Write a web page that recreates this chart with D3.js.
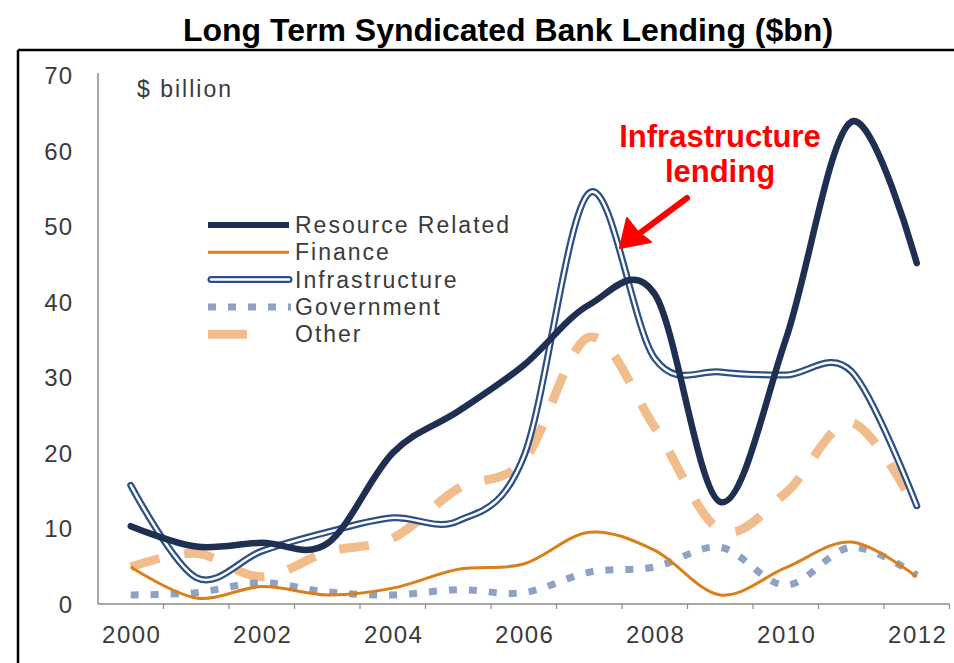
<!DOCTYPE html>
<html>
<head>
<meta charset="UTF-8">
<script src="https://cdn.jsdelivr.net/npm/d3@7/dist/d3.min.js"></script>
<style>
body{
    margin:0;
    background:#fff;
    font-family:"Liberation Sans", Arial, Helvetica, sans-serif;
}
</style>
</head>
<body>
<script>
// values, $bn per year
var years = [2000, 2001, 2002, 2003, 2004, 2005, 2006, 2007, 2008, 2009, 2010, 2011, 2012]
var resource = [10.3, 7.6, 8.1, 8.0, 20, 25.5, 31.6, 39.6, 41, 13.5, 35, 63.8, 45.1]
var finance = [4.9, 0.8, 2.3, 1.2, 2.1, 4.6, 5.3, 9.5, 7.1, 1.2, 4.8, 8.2, 3.6]
var infrastructure = [15.7, 3.5, 7, 9.5, 11.4, 11, 19.5, 54.4, 32.5, 30.7, 30.3, 30.8, 13]
var government = [1.2, 1.5, 2.8, 1.6, 1.2, 1.9, 1.5, 4.2, 4.9, 7.5, 2.5, 7.5, 3.8]
var other = [4.9, 6.7, 3.6, 6.9, 8.7, 15.3, 19, 35.3, 23.4, 9.8, 14.7, 24, 12.4]
var seriesNames = ["Resource Related", "Finance", "Infrastructure", "Government", "Other"]
var yTicks = [0, 10, 20, 30, 40, 50, 60, 70]
var xLabels = [2000, 2002, 2004, 2006, 2008, 2010, 2012]

var width = 954, height = 663

var svg = d3.select("body").append("svg")
    .attr("width", width)
    .attr("height", height)

// frame
svg.append("line").attr("x1", 18).attr("x2", width).attr("y1", 50).attr("y2", 50)
    .attr("stroke", "#000").attr("stroke-width", 2.5)
svg.append("line").attr("x1", 18).attr("x2", 18).attr("y1", 50).attr("y2", height)
    .attr("stroke", "#000").attr("stroke-width", 2.5)

svg.append("text")
    .attr("x", 508).attr("y", 41)
    .attr("text-anchor", "middle")
    .attr("font-size", 32)
    .attr("font-weight", "bold")
    .attr("fill", "#000")
    .text("Long Term Syndicated Bank Lending ($bn)")

var x = d3.scaleLinear().domain([1999.5, 2012.5]).range([98, 949.5])
var y = d3.scaleLinear().domain([0, 70]).range([604, 75])

// axes
var axisCol = "#8a8a8a"
svg.append("line").attr("x1", x(1999.5)).attr("x2", x(1999.5)).attr("y1", 73).attr("y2", y(0))
    .attr("stroke", axisCol).attr("stroke-width", 1.5)
svg.append("line").attr("x1", x(1999.5)).attr("x2", x(2012.5)).attr("y1", y(0)).attr("y2", y(0))
    .attr("stroke", axisCol).attr("stroke-width", 1.5)
svg.selectAll(".xtick").data(years).enter().append("line")
    .attr("class", "xtick")
    .attr("x1", d => x(d + 0.5)).attr("x2", d => x(d + 0.5))
    .attr("y1", y(0)).attr("y2", y(0) + 5)
    .attr("stroke", axisCol).attr("stroke-width", 1.2)

svg.selectAll(".xlab").data(xLabels).enter().append("text")
    .attr("class", "xlab")
    .attr("x", d => x(d) + 1)
    .attr("y", 643)
    .attr("text-anchor", "middle")
    .attr("font-size", 24)
    .attr("letter-spacing", 1.5)
    .attr("fill", "#3a3a3a")
    .text(d => d)

svg.selectAll(".ylab").data(yTicks).enter().append("text")
    .attr("class", "ylab")
    .attr("x", 73)
    .attr("y", d => y(d) + 9)
    .attr("text-anchor", "end")
    .attr("font-size", 24)
    .attr("letter-spacing", 1)
    .attr("fill", "#3a3a3a")
    .text(d => d)

svg.append("text")
    .attr("x", 137).attr("y", 97)
    .attr("font-size", 23)
    .attr("letter-spacing", 2)
    .attr("fill", "#3a3a3a")
    .text("$ billion")

// series
var line = d3.line()
    .x((d, i) => x(years[i]))
    .y(d => y(d))
    .curve(d3.curveCardinal.tension(0))

var plot = svg.append("g")

plot.append("path").datum(other)
    .attr("d", line).attr("fill", "none")
    .attr("stroke", "#f2bd8c").attr("stroke-width", 9)
    .attr("stroke-dasharray", "30,25")

plot.append("path").datum(government)
    .attr("d", line).attr("fill", "none")
    .attr("stroke", "#8ea2c6").attr("stroke-width", 7)
    .attr("stroke-dasharray", "8,12")

plot.append("path").datum(finance)
    .attr("d", line).attr("fill", "none")
    .attr("stroke", "#d9801c").attr("stroke-width", 3)

plot.append("path").datum(infrastructure)
    .attr("d", line).attr("fill", "none")
    .attr("stroke", "#2c4f86").attr("stroke-width", 7)
    .attr("stroke-linecap", "round")
plot.append("path").datum(infrastructure)
    .attr("d", line).attr("fill", "none")
    .attr("stroke", "#fff").attr("stroke-width", 2.5)
    .attr("stroke-linecap", "round")

plot.append("path").datum(resource)
    .attr("d", line).attr("fill", "none")
    .attr("stroke", "#1f2f52").attr("stroke-width", 6.5)
    .attr("stroke-linecap", "round")

// legend
var lx0 = 208, lx1 = 289, ly0 = 225, ldy = 27.3
var legend = svg.append("g")
seriesNames.forEach(function(name, i){
    let ly = ly0 + i * ldy
    if (i == 0) {
        legend.append("line").attr("x1", lx0).attr("x2", lx1).attr("y1", ly).attr("y2", ly)
            .attr("stroke", "#1f2f52").attr("stroke-width", 6)
    } else if (i == 1) {
        legend.append("line").attr("x1", lx0).attr("x2", lx1).attr("y1", ly).attr("y2", ly)
            .attr("stroke", "#d9801c").attr("stroke-width", 3)
    } else if (i == 2) {
        legend.append("line").attr("x1", lx0 + 3).attr("x2", lx1).attr("y1", ly).attr("y2", ly)
            .attr("stroke", "#2c4f86").attr("stroke-width", 7).attr("stroke-linecap", "round")
        legend.append("line").attr("x1", lx0 + 3).attr("x2", lx1).attr("y1", ly).attr("y2", ly)
            .attr("stroke", "#fff").attr("stroke-width", 2.5).attr("stroke-linecap", "round")
    } else if (i == 3) {
        legend.append("line").attr("x1", lx0).attr("x2", lx1 + 2).attr("y1", ly).attr("y2", ly)
            .attr("stroke", "#8ea2c6").attr("stroke-width", 7).attr("stroke-dasharray", "8,12")
    } else {
        legend.append("line").attr("x1", lx0).attr("x2", lx0 + 39).attr("y1", ly).attr("y2", ly)
            .attr("stroke", "#f2bd8c").attr("stroke-width", 9)
    }
    legend.append("text")
        .attr("x", 295).attr("y", ly + 8)
        .attr("font-size", 23)
        .attr("letter-spacing", 2)
        .attr("fill", "#3a3a3a")
        .text(name)
})

// annotation
var red = "#ff0000"
svg.append("text")
    .attr("x", 720).attr("y", 147)
    .attr("text-anchor", "middle")
    .attr("font-size", 31).attr("font-weight", "bold")
    .attr("fill", red)
    .text("Infrastructure")
svg.append("text")
    .attr("x", 720).attr("y", 182)
    .attr("text-anchor", "middle")
    .attr("font-size", 31).attr("font-weight", "bold")
    .attr("fill", red)
    .text("lending")

svg.append("line")
    .attr("x1", 687).attr("y1", 198).attr("x2", 632).attr("y2", 239)
    .attr("stroke", red).attr("stroke-width", 6).attr("stroke-linecap", "round")
svg.append("path")
    .attr("d", "M620,248 L627,218 L638,232 L651,242 Z")
    .attr("fill", red)
    .attr("stroke", red).attr("stroke-width", 2).attr("stroke-linejoin", "round")
</script>
</body>
</html>
